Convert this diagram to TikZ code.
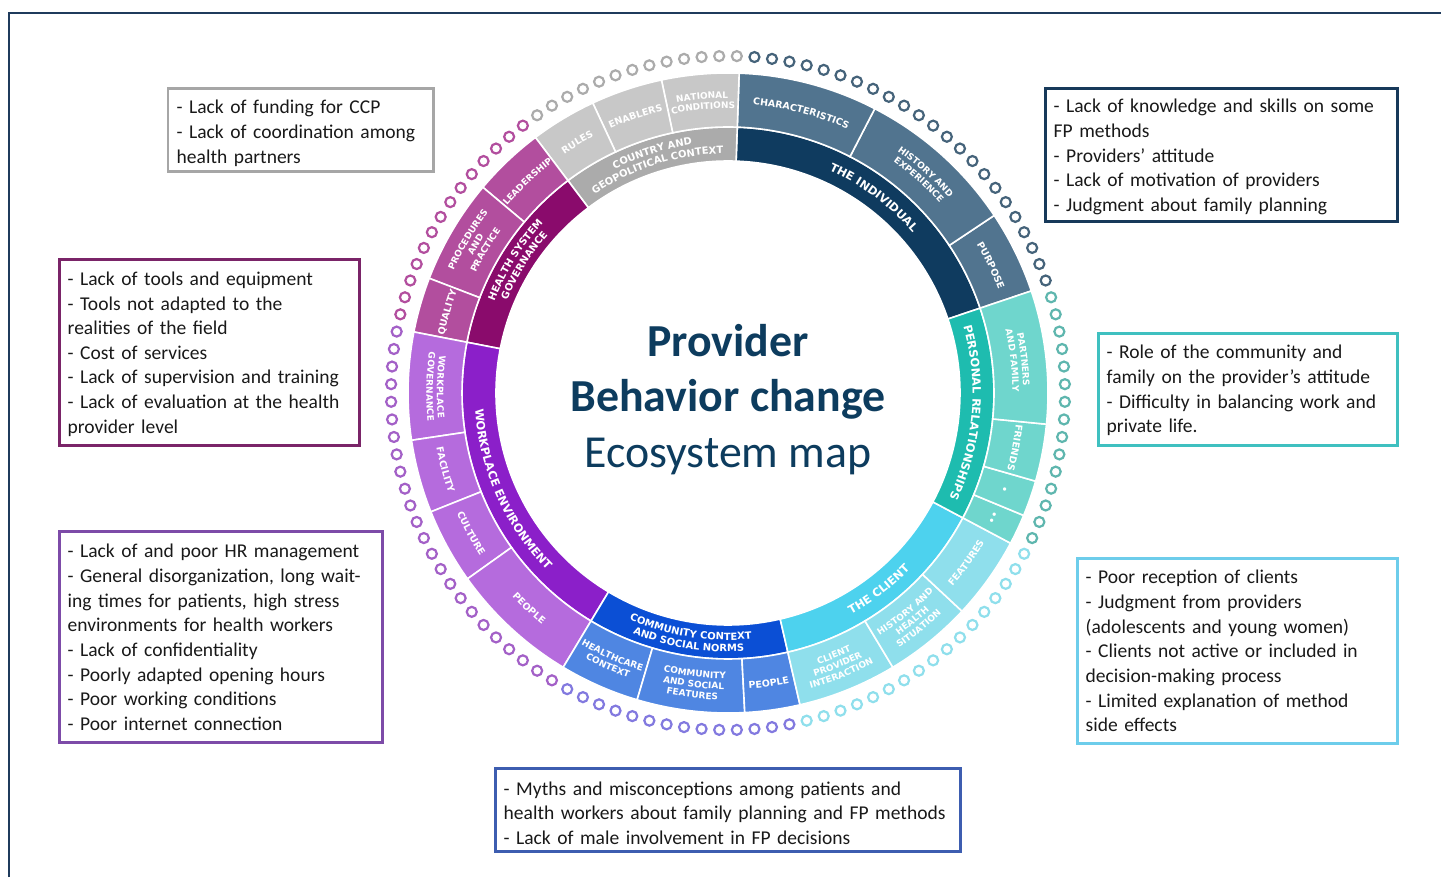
\documentclass[tikz,border=0pt]{standalone}
\usepackage{fontspec}
\setmainfont{Carlito}
\newfontfamily\ringfont{DejaVu Sans}
\usetikzlibrary{decorations.text}
\hyphenpenalty=10000
\definecolor{frameC}{HTML}{1F3B5C}
\definecolor{titleC}{HTML}{0D3C5E}
\definecolor{navyI}{HTML}{0F3B5F}
\definecolor{slateO}{HTML}{51748F}
\definecolor{grayI}{HTML}{ABABAB}
\definecolor{grayO}{HTML}{C8C8C8}
\definecolor{magI}{HTML}{8A0B6C}
\definecolor{magO}{HTML}{B24E9E}
\definecolor{purI}{HTML}{8B1FC9}
\definecolor{purO}{HTML}{B56BDD}
\definecolor{bluI}{HTML}{0B4FD5}
\definecolor{bluO}{HTML}{4F86E2}
\definecolor{cyaI}{HTML}{4DD2EE}
\definecolor{cyaO}{HTML}{8FDFEC}
\definecolor{tealI}{HTML}{1EBCAF}
\definecolor{tealO}{HTML}{6FD6CD}
\definecolor{bd1}{HTML}{A6A6A6}
\definecolor{bd2}{HTML}{17395A}
\definecolor{bd3}{HTML}{7A2468}
\definecolor{bd4}{HTML}{3FC0C0}
\definecolor{bd5}{HTML}{7D4BA8}
\definecolor{bd6}{HTML}{6DCDEB}
\definecolor{bd7}{HTML}{3D5DB0}
\tikzset{
  frame/.style={draw=frameC, line width=1.3},
  cbox/.style={rectangle, draw, line width=3, inner sep=0, fill=white},
  btxt/.style={inner sep=0, align=left, anchor=base west, font=\fontsize{19.6}{24.7}\selectfont, text=black!90},
  ttl/.style={anchor=base, inner sep=0, text=titleC, font=\fontsize{46}{55}\selectfont},
  dot0/.style={draw=black!33, line width=2.2},
  dot1/.style={draw=slateO!85!black, line width=2.2},
  dot2/.style={draw=tealO!85!black, line width=2.2},
  dot3/.style={draw=cyaO, line width=2.2},
  dot4/.style={draw=bluO!50!purO, line width=2.2},
  dot5/.style={draw=purO!90!black, line width=2.2},
  dot6/.style={draw=magO, line width=2.2},
}
\newcommand\fsI{\ringfont\bfseries\fontsize{11.5}{11.5}\selectfont\color{white}}
\newcommand\fsII{\ringfont\bfseries\fontsize{10}{10}\selectfont\color{white}}
\newcommand\fsO{\ringfont\bfseries\fontsize{9.5}{9.5}\selectfont\color{white}}
\newcommand\fsOm{\ringfont\bfseries\fontsize{9}{9}\selectfont\color{white}}
\newcommand\ringseg[5]{\fill[#5, draw=white, line width=1.6] (#1:#3) arc[start angle=#1, end angle=#2, radius=#3] -- (#2:#4) arc[start angle=#2, end angle=#1, radius=#4] -- cycle;}
\newcommand\ringlabel[5]{%
  \ifnum#3=1
    \path[decorate, decoration={text along path, text align=center, text={|#4|#5}}] (#1+70:#2) arc[start angle=#1+70, end angle=#1-70, radius=#2];
  \else
    \path[decorate, decoration={text along path, text align=center, text={|#4|#5}}] (#1-70:#2) arc[start angle=#1-70, end angle=#1+70, radius=#2];
  \fi}
\begin{document}
\begin{tikzpicture}[x=1bp,y=1bp]
\useasboundingbox (0,0) rectangle (1441,877);
\fill[white] (0,0) rectangle (1441,877);
% frame
\coordinate (f1) at (9,0);
\coordinate (f2) at (9,864);
\coordinate (f3) at (1441,864);
\draw[frame] (f1) -- (f2) -- (f3);

\begin{scope}[shift={(728,484)}]
\coordinate (C) at (0,0);
% inner ring
\ringseg{18.6}{88}{232}{266}{navyI}
\ringseg{88}{127}{232}{266}{grayI}
\ringseg{127}{169}{232}{266}{magI}
\ringseg{169}{239}{232}{266}{purI}
\ringseg{239}{283}{232}{266}{bluI}
\ringseg{283}{332}{232}{266}{cyaI}
\ringseg{332}{378.6}{232}{266}{tealI}
% outer ring
\ringseg{18.6}{33.7}{266}{320}{slateO}
\ringseg{33.7}{62.7}{266}{320}{slateO}
\ringseg{62.7}{88}{266}{320}{slateO}
\ringseg{88}{102}{266}{320}{grayO}
\ringseg{102}{115}{266}{320}{grayO}
\ringseg{115}{127}{266}{320}{grayO}
\ringseg{127}{140}{266}{320}{magO}
\ringseg{140}{159}{266}{320}{magO}
\ringseg{159}{169}{266}{320}{magO}
\ringseg{169}{188.5}{266}{320}{purO}
\ringseg{188.5}{201.8}{266}{320}{purO}
\ringseg{201.8}{215.5}{266}{320}{purO}
\ringseg{215.5}{239}{266}{320}{purO}
\ringseg{239}{253.5}{266}{320}{bluO}
\ringseg{253.5}{273}{266}{320}{bluO}
\ringseg{273}{283}{266}{320}{bluO}
\ringseg{283}{301}{266}{320}{cyaO}
\ringseg{301}{317}{266}{320}{cyaO}
\ringseg{317}{332}{266}{320}{cyaO}
\ringseg{332}{337.5}{266}{320}{tealO}
\ringseg{337.5}{344}{266}{320}{tealO}
\ringseg{344}{354.4}{266}{320}{tealO}
\ringseg{354.4}{378.6}{266}{320}{tealO}
% dots
\foreach \i in {0,...,119}{
  \pgfmathsetmacro\da{\i*3+1.5}
  \pgfmathtruncatemacro\dk{ifthenelse(\da<18.6,2,ifthenelse(\da<88,1,ifthenelse(\da<127,0,ifthenelse(\da<169,6,ifthenelse(\da<239,5,ifthenelse(\da<283,4,ifthenelse(\da<332,3,2)))))))}
  \draw[dot\dk] (\da:337) circle[radius=5];
}
% inner labels
\ringlabel{53.3}{244.6}{1}{\fsI}{THE INDIVIDUAL}
\ringlabel{355.3}{244.6}{1}{\fsI}{PERSONAL RELATIONSHIPS}
\ringlabel{307.5}{253.4}{0}{\fsI}{THE CLIENT}
\ringlabel{204}{253.4}{0}{\fsI}{WORKPLACE ENVIRONMENT}
\ringlabel{261}{247.1}{0}{\fsII}{COMMUNITY CONTEXT}
\ringlabel{261}{258.6}{0}{\fsII}{AND SOCIAL NORMS}
\ringlabel{148}{250.9}{1}{\fsII}{HEALTH SYSTEM}
\ringlabel{148}{239.4}{1}{\fsII}{GOVERNANCE}
\ringlabel{107.5}{250.9}{1}{\fsII}{COUNTRY AND}
\ringlabel{107.5}{239.4}{1}{\fsII}{GEOPOLITICAL CONTEXT}
% outer labels
\ringlabel{95}{294.95}{1}{\fsOm}{NATIONAL}
\ringlabel{95}{284.45}{1}{\fsOm}{CONDITIONS}
\ringlabel{108.5}{289.4}{1}{\fsO}{ENABLERS}
\ringlabel{121}{289.4}{1}{\fsO}{RULES}
\ringlabel{133.5}{289.4}{1}{\fsOm}{LEADERSHIP}
\ringlabel{149.5}{300.2}{1}{\fsOm}{PROCEDURES}
\ringlabel{149.5}{289.7}{1}{\fsOm}{AND}
\ringlabel{149.5}{279.2}{1}{\fsOm}{PRACTICE}
\ringlabel{164}{289.4}{1}{\fsO}{QUALITY}
\ringlabel{178.75}{291.05}{0}{\fsOm}{WORKPLACE}
\ringlabel{178.75}{301.55}{0}{\fsOm}{GOVERNANCE}
\ringlabel{195.15}{296.6}{0}{\fsO}{FACILITY}
\ringlabel{208.65}{296.6}{0}{\fsO}{CULTURE}
\ringlabel{227.25}{296.6}{0}{\fsO}{PEOPLE}
\ringlabel{246.25}{291.05}{0}{\fsOm}{HEALTHCARE}
\ringlabel{246.25}{301.55}{0}{\fsOm}{CONTEXT}
\ringlabel{263.25}{285.8}{0}{\fsOm}{COMMUNITY}
\ringlabel{263.25}{296.3}{0}{\fsOm}{AND SOCIAL}
\ringlabel{263.25}{306.8}{0}{\fsOm}{FEATURES}
\ringlabel{278}{296.6}{0}{\fsO}{PEOPLE}
\ringlabel{292}{285.8}{0}{\fsOm}{CLIENT}
\ringlabel{292}{296.3}{0}{\fsOm}{PROVIDER}
\ringlabel{292}{306.8}{0}{\fsOm}{INTERACTION}
\ringlabel{309}{285.8}{0}{\fsOm}{HISTORY AND}
\ringlabel{309}{296.3}{0}{\fsOm}{HEALTH}
\ringlabel{309}{306.8}{0}{\fsOm}{SITUATION}
\ringlabel{324.5}{296.6}{0}{\fsO}{FEATURES}
\ringlabel{334.75}{289.4}{1}{\fsO}{••}
\ringlabel{340.75}{289.4}{1}{\fsO}{•}
\ringlabel{349.2}{289.4}{1}{\fsO}{FRIENDS}
\ringlabel{6.5}{294.95}{1}{\fsOm}{PARTNERS}
\ringlabel{6.5}{284.45}{1}{\fsOm}{AND FAMILY}
\ringlabel{25.85}{289.4}{1}{\fsO}{PURPOSE}
\ringlabel{48.2}{294.95}{1}{\fsOm}{HISTORY AND}
\ringlabel{48.2}{284.45}{1}{\fsOm}{EXPERIENCE}
\ringlabel{75.35}{289.4}{1}{\fsO}{CHARACTERISTICS}
\end{scope}

% title
\node[ttl, font=\bfseries\fontsize{46}{55}\selectfont] (title1) at (728,877-357) {Provider};
\node[ttl, font=\bfseries\fontsize{46}{55}\selectfont] (title2) at (728,877-412) {Behavior change};
\node[ttl] (title3) at (728,877-468) {Ecosystem map};

% boxes
\node[cbox, draw=bd1, minimum width=266, minimum height=83] (box1) at (300.5,877-130) {};
\node[btxt, text width=257] (txt1) at (176.5,877-114) {- Lack of funding for CCP\\- Lack of coordination among\\health partners};

\node[cbox, draw=bd2, minimum width=354, minimum height=133] (box2) at (1221.5,877-155) {};
\node[btxt, text width=345] (txt2) at (1053.5,877-113) {- Lack of knowledge and skills on some\\FP methods\\- Providers’ attitude\\- Lack of motivation of providers\\- Judgment about family planning};

\node[cbox, draw=bd3, minimum width=302, minimum height=186] (box3) at (209.5,877-352.5) {};
\node[btxt, text width=293] (txt3) at (67.5,877-285.5) {- Lack of tools and equipment\\- Tools not adapted to the\\realities of the field\\- Cost of services\\- Lack of supervision and training\\- Lack of evaluation at the health\\provider level};

\node[cbox, draw=bd4, minimum width=301, minimum height=112] (box4) at (1248,877-389.5) {};
\node[btxt, text width=292] (txt4) at (1106.5,877-359) {- Role of the community and\\family on the provider’s attitude\\- Difficulty in balancing work and\\private life.};

\node[cbox, draw=bd5, minimum width=325, minimum height=211] (box5) at (221,877-637) {};
\node[btxt, text width=316] (txt5) at (67.5,877-558) {- Lack of and poor HR management\\- General disorganization, long wait-\\ing times for patients, high stress\\environments for health workers\\- Lack of confidentiality\\- Poorly adapted opening hours\\- Poor working conditions\\- Poor internet connection};

\node[cbox, draw=bd6, minimum width=322, minimum height=185] (box6) at (1237.5,877-651) {};
\node[btxt, text width=313] (txt6) at (1085.5,877-584) {- Poor reception of clients\\- Judgment from providers\\(adolescents and young women)\\- Clients not active or included in\\decision-making process\\- Limited explanation of method\\side effects};

\node[cbox, draw=bd7, minimum width=467, minimum height=83] (box7) at (728,877-810) {};
\node[btxt, text width=458] (txt7) at (503.5,877-795) {- Myths and misconceptions among patients and\\health workers about family planning and FP methods\\- Lack of male involvement in FP decisions};
\end{tikzpicture}
\end{document}
